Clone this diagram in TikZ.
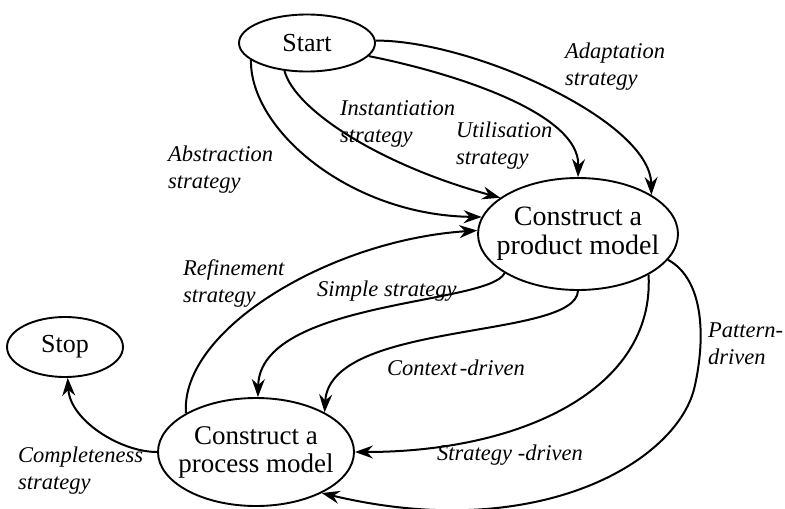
\documentclass[tikz,border=0pt]{standalone}
\usepackage{fontspec}
\setmainfont{Liberation Serif}
\usetikzlibrary{arrows.meta,shapes.geometric}
\begin{document}
\begin{tikzpicture}[x=1pt,y=-1pt,
  state/.style={ellipse,draw,line width=1.9pt,inner sep=0pt},
  flow/.style={line width=2pt,-{Stealth[length=18pt,width=13pt,inset=6pt]}},
  lbl/.style={anchor=north west,inner sep=0pt,align=left,
              font=\fontsize{22.5}{27}\selectfont\itshape}]
\useasboundingbox (0,0) rectangle (785,509);

% states
\node[state,minimum width=136pt,minimum height=57pt,
      font=\fontsize{26}{28}\selectfont] (start) at (307,43) {Start};
\node[state,minimum width=200pt,minimum height=112pt,
      label={[align=center,font=\fontsize{28}{29}\selectfont]center:{Construct a\\product model}}]
      (prod) at (578,234) {};
\node[state,minimum width=196pt,minimum height=108pt,
      label={[align=center,font=\fontsize{27}{28}\selectfont]center:{Construct a\\process model}}]
      (proc) at (256,452) {};
\node[state,minimum width=116pt,minimum height=60pt,
      font=\fontsize{26}{28}\selectfont] (stop) at (65,347) {Stop};

% strategies leading from Start to the product model
\draw[flow] (start.2) .. controls (470,40) and (650,120) .. (prod.28);
\draw[flow] (start.-12) .. controls (440,70) and (580,110) .. (prod.90);
\draw[flow] (start.-129) .. controls (295,110) and (380,165) .. (prod.155);
\draw[flow] (start.-163) .. controls (250,130) and (350,215) .. (prod.170);

% refinement back to the product model
\draw[flow] (proc.151) .. controls (180,330) and (330,240) .. (prod.178);

% strategies from the product model to the process model
\draw[flow] (prod.-152) .. controls (490,305) and (260,300) .. (proc.88);
\draw[flow] (prod.-90) .. controls (575,340) and (330,320) .. (proc.30);
\draw[flow] (prod.-30) .. controls (655,390) and (520,452) .. (proc.0);
\draw[flow] (prod.-16) .. controls (705,280) and (705,340) .. (695,385)
            .. controls (680,460) and (540,545) .. (proc.-32);

% completeness
\draw[flow] (proc.180) .. controls (120,452) and (70,420) .. (stop.-85);

% strategy labels
\node[lbl] (l-adapt) at (565,43) {Adaptation\\strategy};
\node[lbl] (l-inst) at (340,100) {Instantiation\\strategy};
\node[lbl] (l-util) at (456,122) {Utilisation\\strategy};
\node[lbl] (l-abs) at (168,146) {Abstraction\\strategy};
\node[lbl] (l-ref) at (183,259) {Refinement\\strategy};
\node[lbl] (l-simple) at (317,281) {Simple strategy};
\node[lbl] (l-context) at (387,360) {Context\hspace{0.12em}-driven};
\node[lbl] (l-strat) at (437,445) {Strategy -driven};
\node[lbl] (l-pattern) at (708,323) {Pattern-\\driven};
\node[lbl] (l-complete) at (18,447) {Completeness\\strategy};
\end{tikzpicture}
\end{document}
